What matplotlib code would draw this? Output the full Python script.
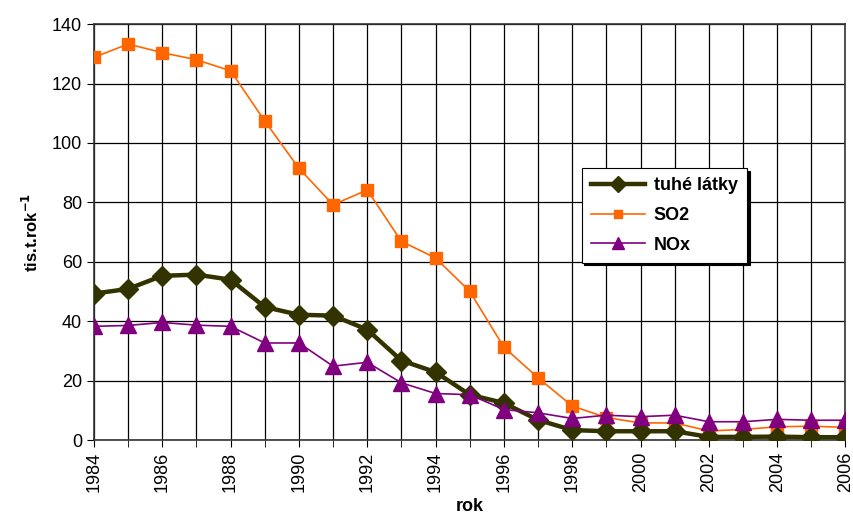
import matplotlib.pyplot as plt
from matplotlib.ticker import MultipleLocator

plt.rcParams['font.family'] = ['Liberation Sans', 'DejaVu Sans']

years = list(range(1984, 2007))
tuhe_latky = [49.3, 50.9, 55.3, 55.7, 54.0, 44.8, 42.2, 41.9, 37.2, 26.8, 22.9, 15.3,
              12.5, 6.8, 3.4, 3.0, 3.0, 3.0, 1.1, 1.1, 1.2, 1.0, 1.0]
so2 = [128.8, 133.3, 130.4, 128.0, 124.3, 107.4, 91.5, 79.2, 84.2, 66.9, 61.3, 50.1,
       31.3, 21.0, 11.5, 7.6, 5.8, 5.8, 3.1, 3.6, 4.5, 4.7, 4.3]
nox = [38.3, 38.6, 39.6, 38.7, 38.3, 32.7, 32.7, 24.9, 26.2, 19.3, 15.7, 15.3,
       10.3, 9.2, 7.3, 8.4, 7.9, 8.4, 6.2, 6.2, 7.0, 6.7, 6.7]

fig = plt.figure(figsize=(8.54, 5.24), dpi=100)
ax = fig.add_axes([0.110, 0.160, 0.880, 0.794])

ax.plot(years, tuhe_latky, color='#333300', lw=3.2, marker='D', ms=10,
        label='tuhé látky', zorder=5)
ax.plot(years, so2, color='#FF6600', lw=1.2, marker='s', ms=8,
        label='SO2', zorder=4)
ax.plot(years, nox, color='#800080', lw=1.2, marker='^', ms=11.5,
        label='NOx', zorder=6)

ax.set_xlim(1984, 2006)
ax.set_ylim(0, 140)
ax.xaxis.set_major_locator(MultipleLocator(2))
ax.xaxis.set_minor_locator(MultipleLocator(1))
ax.yaxis.set_major_locator(MultipleLocator(20))
ax.grid(True, which='both', axis='x', color='black', lw=0.9)
ax.grid(True, which='major', axis='y', color='black', lw=0.9)
ax.set_axisbelow(True)
for s in ax.spines.values():
    s.set_color('#333333')
    s.set_linewidth(1.2)
ax.tick_params(axis='x', which='major', labelrotation=90, labelsize=13,
               length=5, direction='out')
ax.tick_params(axis='x', which='minor', length=5)
ax.tick_params(axis='y', labelsize=13, length=5)

ax.set_xlabel('rok', fontsize=13, fontweight='bold', labelpad=4)
ax.set_ylabel('tis.t.rok$^{\\mathbf{-1}}$', fontsize=12, fontweight='bold',
              labelpad=8)

leg = ax.legend(loc='upper left', bbox_to_anchor=(0.637, 0.675),
                prop={'weight': 'bold', 'size': 13}, fancybox=False,
                shadow={'color': 'black', 'alpha': 1}, framealpha=1,
                edgecolor='black', handlelength=3.0, borderpad=0.5,
                labelspacing=0.7, markerscale=0.8, handletextpad=0.5)
leg.get_frame().set_linewidth(0.8)

fig.savefig('out.png', dpi=100)
